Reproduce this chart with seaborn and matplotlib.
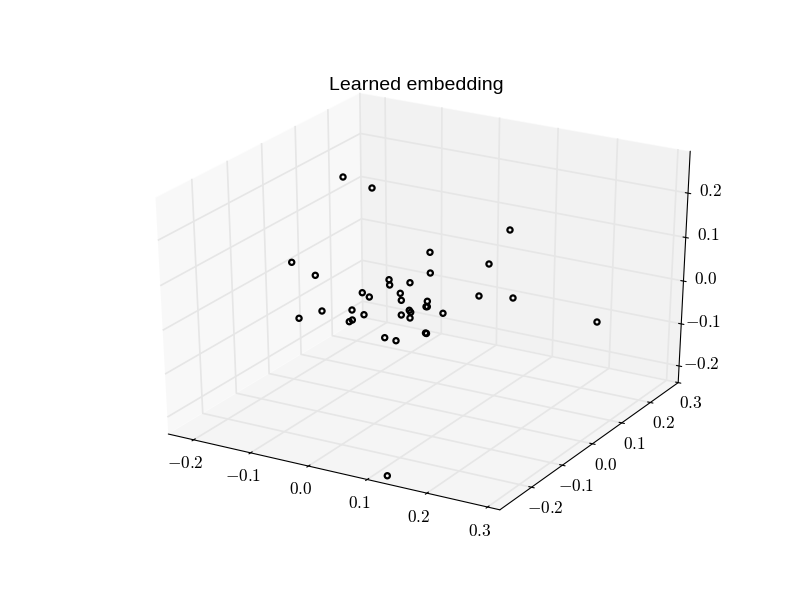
import matplotlib
matplotlib.use("Agg")
import matplotlib.pyplot as plt
import seaborn as sns

sns.set_style("white")
plt.rcParams["mathtext.fontset"] = "cm"

# Coordinates of the embedded points
emb_x = [-0.1759, -0.1388, -0.1413, -0.1140, -0.0746, -0.0730, -0.0697, -0.0566, -0.0687, -0.0574,
         -0.0390, -0.0358, -0.0099, -0.0180, -0.0135, -0.0070, 0.0015, 0.0043, 0.0059, 0.0214,
         0.0221, 0.0238, 0.0475, 0.0332, 0.0347, -0.0188, -0.0025, 0.0030, 0.0127, -0.1457,
         -0.1024, 0.0988, 0.0863, 0.0874, 0.1333, 0.2550, 0.1337]
emb_y = [-0.0372, -0.0307, -0.0781, -0.0553, -0.0325, -0.0441, -0.0405, -0.0276, -0.0106, -0.0091,
         0.0196, 0.0157, 0.0324, 0.0166, 0.0116, -0.0005, 0.0092, 0.0086, 0.0034, 0.0298,
         0.0244, 0.0253, 0.0313, 0.0023, 0.0026, -0.0314, -0.0256, 0.0720, 0.0552, 0.0705,
         0.0826, 0.1485, 0.1054, 0.0718, 0.0949, 0.1364, -0.2995]
emb_z = [0.0575, 0.0347, -0.0440, -0.0299, -0.0270, -0.0483, -0.0451, -0.0351, 0.0048, -0.0027,
         0.0294, 0.0198, 0.0247, 0.0051, -0.0076, -0.0343, -0.0254, -0.0290, -0.0394, -0.0084,
         -0.0183, -0.0182, -0.0296, -0.0661, -0.0669, -0.0761, -0.0812, 0.0805, 0.0430, 0.2138,
         0.1949, 0.1237, 0.0614, 0.0031, 0.0007, -0.0398, -0.2210]

xy_ticks = [-0.2, -0.1, 0.0, 0.1, 0.2, 0.3]
z_ticks = [-0.2, -0.1, 0.0, 0.1, 0.2]


def tick_text(values):
    return [f"${v:.1f}$" for v in values]


fig = plt.figure(figsize=(7.96, 6), dpi=100)
ax = fig.add_axes([0.0854, 0.0784, 0.879, 0.8415], projection="3d")
# Let the 3D box fill the whole rectangle, as older matplotlib did
ax.apply_aspect = lambda position=None: None
ax.set_box_aspect((1, 1, 0.97), zoom=0.909)
ax.view_init(elev=29, azim=-60)

ax.scatter(emb_x, emb_y, emb_z, s=14, facecolors="none", edgecolors="k",
           linewidths=1.6, depthshade=False)

ax.set_xlim(-0.245, 0.32)
ax.set_ylim(-0.3, 0.3)
ax.set_zlim(-0.24, 0.293)
ax.set_xticks(xy_ticks)
ax.set_yticks(xy_ticks)
ax.set_zticks(z_ticks)
ax.set_xticklabels(tick_text(xy_ticks))
ax.set_yticklabels(tick_text(xy_ticks))
ax.set_zticklabels(tick_text(z_ticks), va="center")
ax.tick_params(labelsize=12.5, colors="k")
ax.tick_params(axis="x", pad=1)
ax.tick_params(axis="y", pad=1)
ax.tick_params(axis="z", pad=2)

for axis in [ax.xaxis, ax.yaxis, ax.zaxis]:
    axis._axinfo["grid"].update(color=(0.9, 0.9, 0.9), linewidth=1.2)
    axis._axinfo["tick"].update(inward_factor=0.1, outward_factor=0.1)
    axis.pane.set_edgecolor((1, 1, 1, 0))
    axis.line.set_color("k")

fig.text(416 / 796, 1 - 85 / 600, "Learned embedding", family="Liberation Sans",
         size=14, color="k", ha="center", va="center")

fig.savefig("out.png", dpi=100)
